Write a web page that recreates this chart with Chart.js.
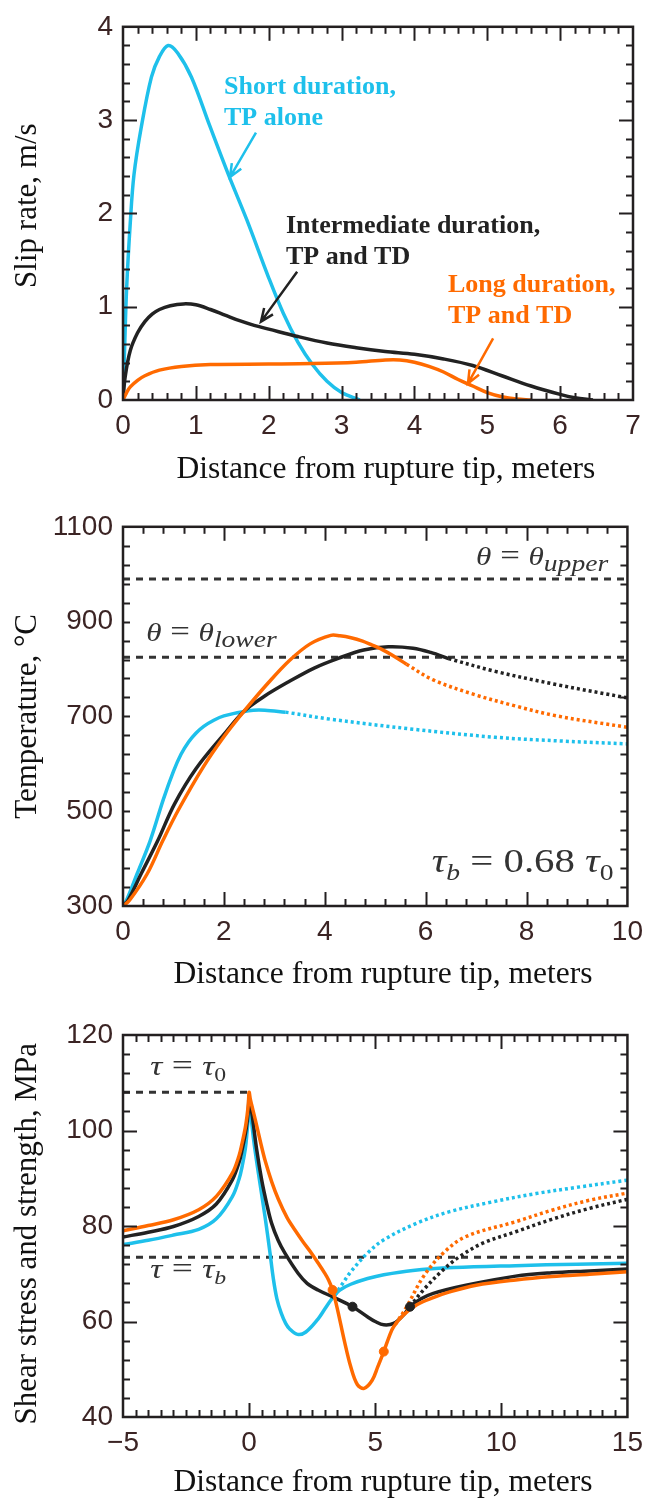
<!DOCTYPE html>
<html>
<head>
<meta charset="utf-8">
<script src="https://cdn.jsdelivr.net/npm/chart.js@4.4.1/dist/chart.umd.min.js"></script>
<style>
  html, body { margin: 0; padding: 0; background: #fff; }
  #wrap { position: relative; width: 652px; height: 1502px; }
  canvas { position: absolute; left: 0; }
</style>
</head>
<body>
<div id="wrap">
  <canvas id="slip" width="652" height="500" style="top:0px"></canvas>
  <canvas id="temp" width="652" height="505" style="top:500px"></canvas>
  <canvas id="stress" width="652" height="497" style="top:1005px"></canvas>
</div>
<script>
// ---- colours ----
const CYAN = '#1ec0eb';
const BLACK = '#222222';
const ORANGE = '#ff6a00';
const INK = '#3b2424';

// ---- panel 1: slip rate, m/s ----
const slipShortX = [0, 0.02, 0.05, 0.1, 0.15, 0.25, 0.39, 0.5, 0.62, 0.75, 0.94, 1.19, 1.45, 1.7, 2.0, 2.2, 2.4, 2.6, 2.8, 3.0, 3.25];
const slipShort  = [0, 0.5, 1.2, 1.9, 2.41, 2.92, 3.46, 3.68, 3.8, 3.72, 3.46, 2.94, 2.41, 1.93, 1.31, 0.93, 0.62, 0.38, 0.2, 0.08, 0];
const slipMidX = [0, 0.03, 0.1, 0.2, 0.3, 0.4, 0.5, 0.65, 0.83, 1.0, 1.2, 1.4, 1.6, 1.8, 2.0, 2.4, 2.8, 3.2, 3.6, 4.0, 4.4, 4.8, 5.2, 5.6, 6.0, 6.2, 6.45];
const slipMid  = [0, 0.25, 0.53, 0.72, 0.84, 0.92, 0.97, 1.01, 1.03, 1.02, 0.97, 0.91, 0.85, 0.8, 0.76, 0.68, 0.61, 0.56, 0.52, 0.49, 0.44, 0.37, 0.26, 0.15, 0.06, 0.025, 0];
const slipLongX = [0, 0.05, 0.1, 0.2, 0.3, 0.5, 0.8, 1.2, 2.0, 2.6, 3.2, 3.6, 3.8, 4.0, 4.2, 4.4, 4.6, 4.8, 5.0, 5.2, 5.4, 5.6];
const slipLong  = [0, 0.08, 0.14, 0.21, 0.26, 0.32, 0.36, 0.38, 0.385, 0.39, 0.405, 0.43, 0.43, 0.405, 0.36, 0.3, 0.22, 0.15, 0.08, 0.035, 0.01, 0];

// ---- panel 2: temperature, deg C (solid part, then dotted part) ----
const tempShortX = [0, 0.07, 0.28, 0.54, 0.8, 1.0, 1.15, 1.3, 1.45, 1.6, 1.8, 2.0, 2.49, 2.81, 3.22];
const tempShort  = [300, 312, 368, 438, 525, 584, 620, 646, 665, 679, 692, 701, 712, 713, 709];
const tempShortDotX = [3.22, 4.12, 5.75, 7.38, 8.7, 10];
const tempShortDot  = [709, 694, 673, 656, 648, 642];
const tempMidX = [0, 0.1, 0.36, 0.69, 1.02, 1.45, 2.0, 2.4, 2.81, 3.3, 3.79, 4.28, 4.77, 5.26, 5.75, 6.1, 6.45];
const tempMid  = [300, 312, 368, 438, 515, 590, 662, 711, 743, 774, 802, 823, 840, 847, 844, 835, 822];
const tempMidDotX = [6.45, 7.38, 8.6, 10];
const tempMidDot  = [822, 795, 767, 739];
const tempLongX = [0, 0.13, 0.48, 0.79, 1.1, 1.59, 2.0, 2.4, 2.89, 3.3, 3.71, 4.12, 4.3, 4.52, 4.75, 4.93, 5.14, 5.34, 5.62];
const tempLong  = [300, 312, 368, 438, 503, 593, 657, 711, 772, 818, 853, 871, 870, 866, 859, 851, 841, 829, 810];
const tempLongDotX = [5.62, 6.15, 6.97, 7.78, 8.6, 10];
const tempLongDot  = [810, 777, 746, 722, 701, 677];
const thetaUpper = 990;
const thetaLower = 825;

// ---- panel 3: shear stress and strength, MPa ----
const stressShortX = [-5, -4, -3, -2, -1.3, -0.67, -0.4, -0.28, -0.15, -0.086, -0.03, 0, 0.18, 0.37, 0.63, 0.83, 0.96, 1.1, 1.27, 1.45, 1.6, 1.92, 2.25, 2.73, 3.0, 3.23, 3.4, 3.6, 4.03, 4.7, 5.34, 6.49, 8.12, 10.57, 13, 15];
const stressShort  = [76.1, 77.0, 78.1, 79.3, 81.5, 86.1, 89.8, 92.4, 96.2, 99.4, 103, 106, 98, 91, 82, 74.3, 69, 64.8, 61.8, 59.6, 58.5, 57.3, 57.8, 60.5, 62.6, 64.4, 65.5, 66.6, 67.8, 69.0, 69.8, 70.7, 71.3, 71.7, 72.0, 72.2];
const strengthShortX = [3.4, 3.7, 4.03, 4.69, 5.34, 6.65, 7.95, 9.6, 11.38, 13, 15];
const strengthShort  = [65.5, 67.9, 70.4, 74.3, 77.1, 80.6, 83.0, 85.0, 86.8, 88.1, 89.6];
const stressMidX = [-5, -4, -3, -2, -1.3, -0.67, -0.4, -0.28, -0.15, -0.086, -0.03, 0, 0.11, 0.3, 0.5, 0.7, 0.89, 1.15, 1.42, 1.94, 2.3, 2.73, 3.38, 4.1, 4.69, 5.0, 5.34, 5.73, 6.13, 6.38, 6.8, 7.3, 8.6, 10.57, 12, 13.5, 15];
const stressMid  = [77.7, 78.7, 79.9, 82.0, 84.6, 89.6, 93.3, 95.9, 99.3, 101.5, 104.3, 107, 103.6, 96, 89.6, 84.6, 80.6, 77, 74.3, 70.1, 68.0, 66.6, 65.0, 63.1, 61.0, 60.0, 59.3, 59.6, 61.4, 63.1, 64.7, 65.9, 67.6, 69.5, 70.2, 70.6, 71.0];
const strengthMidX = [6.38, 6.91, 7.69, 8.35, 9.26, 10.57, 12, 13.5, 15];
const strengthMid  = [63.1, 66.6, 70.8, 73.6, 76.4, 78.8, 81.4, 83.7, 85.6];
const stressLongX = [-5, -4, -3, -2, -1.3, -0.67, -0.4, -0.28, -0.15, -0.086, -0.03, 0, 0.05, 0.1, 0.24, 0.45, 0.64, 0.9, 1.16, 1.5, 1.81, 2.15, 2.46, 2.73, 2.99, 3.15, 3.31, 3.51, 3.77, 4.03, 4.29, 4.56, 4.88, 5.1, 5.34, 5.55, 5.73, 6.13, 6.65, 7.3, 7.95, 9, 10.57, 12, 13.5, 15];
const stressLong  = [79.0, 80.1, 81.3, 83.4, 86.2, 91.0, 94.7, 97.3, 100.6, 102.9, 105.5, 108, 106.5, 105.4, 102.4, 97.6, 93.6, 89.2, 85.6, 81.8, 79.2, 76.6, 74.4, 72.3, 70.2, 68.7, 66.6, 62.4, 56.1, 50.5, 46.8, 46.0, 47.7, 50.5, 53.7, 56.8, 58.9, 61.4, 63.5, 65.0, 66.2, 67.6, 68.7, 69.4, 69.9, 70.4];
const strengthLongX = [5.8, 6.25, 6.91, 7.69, 8.6, 10.57, 12, 13.5, 15];
const strengthLong  = [59.4, 63.1, 69.4, 74.3, 77.8, 80.9, 83.3, 85.4, 86.9];
const markMidX = [4.1, 6.38];
const markMid  = [63.1, 63.1];
const markLongX = [3.31, 5.34];
const markLong  = [66.6, 53.7];
const tau0 = 108;
const taub = 73.44;

// ---- helpers ----
const pts = (xs, ys) => xs.map((x, i) => ({ x: x, y: ys[i] }));

function curve(xs, ys, color, dotted) {
  return {
    data: pts(xs, ys), borderColor: color, borderWidth: 3.5, pointRadius: 0,
    tension: 0.35, borderDash: dotted ? [3, 3] : [], fill: false
  };
}

function refLine(x0, x1, v) {
  return {
    data: [{ x: x0, y: v }, { x: x1, y: v }], borderColor: '#333', borderWidth: 3,
    borderDash: [7, 6], pointRadius: 0, fill: false
  };
}

function marks(xs, ys, color) {
  return { data: pts(xs, ys), showLine: false, pointRadius: 4.5, pointBackgroundColor: color, pointBorderColor: color, borderColor: color };
}

const fmt = v => (v < 0 ? '\u2212' + Math.abs(v) : String(v));

// inward ticks on all four sides plus the frame
const framePlugin = {
  id: 'frame',
  afterDatasetsDraw(chart, args, o) {
    const { ctx, chartArea: a, scales: { x, y } } = chart;
    ctx.save();
    ctx.strokeStyle = '#231f20';
    ctx.lineWidth = 2;
    const seg = (x1, y1, x2, y2) => { ctx.beginPath(); ctx.moveTo(x1, y1); ctx.lineTo(x2, y2); ctx.stroke(); };
    let n = Math.round((x.max - x.min) / o.xMinor);
    for (let i = 1; i < n; i++) {
      const v = x.min + i * o.xMinor;
      const len = Math.abs(v / o.xMajor - Math.round(v / o.xMajor)) < 1e-6 ? 14 : 7;
      const px = Math.round(x.getPixelForValue(v)) + 0.5;
      seg(px, a.bottom, px, a.bottom - len);
      seg(px, a.top, px, a.top + len);
    }
    n = Math.round((y.max - y.min) / o.yMinor);
    for (let i = 1; i < n; i++) {
      const v = y.min + i * o.yMinor;
      const len = Math.abs(v / o.yMajor - Math.round(v / o.yMajor)) < 1e-6 ? 14 : 7;
      const py = Math.round(y.getPixelForValue(v)) + 0.5;
      seg(a.left, py, a.left + len, py);
      seg(a.right, py, a.right - len, py);
    }
    ctx.lineWidth = 2.5;
    ctx.strokeRect(a.left, a.top, a.width, a.height);
    ctx.restore();
  }
};

// labels and arrows, placed in data units
const notesPlugin = {
  id: 'notes',
  afterDatasetsDraw(chart, args, o) {
    const { ctx, scales: { x, y } } = chart;
    ctx.save();
    (o.arrows || []).forEach(a => {
      const x1 = x.getPixelForValue(a.from[0]), y1 = y.getPixelForValue(a.from[1]);
      const x2 = x.getPixelForValue(a.to[0]), y2 = y.getPixelForValue(a.to[1]);
      const ang = Math.atan2(y2 - y1, x2 - x1);
      ctx.strokeStyle = a.color;
      ctx.lineWidth = 2.5;
      ctx.beginPath();
      ctx.moveTo(x1, y1);
      ctx.lineTo(x2, y2);
      ctx.moveTo(x2 - 14 * Math.cos(ang - 0.4), y2 - 14 * Math.sin(ang - 0.4));
      ctx.lineTo(x2, y2);
      ctx.lineTo(x2 - 14 * Math.cos(ang + 0.4), y2 - 14 * Math.sin(ang + 0.4));
      ctx.stroke();
    });
    ctx.textBaseline = 'alphabetic';
    ctx.textAlign = 'left';
    (o.texts || []).forEach(t => {
      ctx.save();
      ctx.translate(x.getPixelForValue(t.at[0]), y.getPixelForValue(t.at[1]));
      ctx.scale(t.sx || 1, 1);
      ctx.fillStyle = t.color;
      let px = 0;
      t.runs.forEach(r => {
        ctx.font = r[1];
        ctx.fillText(r[0], px, r[2] || 0);
        px += ctx.measureText(r[0]).width;
      });
      ctx.restore();
    });
    ctx.restore();
  }
};

const TICK_FONT = { family: 'Liberation Sans', size: 28 };
const XTITLE_FONT = { family: 'Liberation Serif', size: 31.5 };
const YTITLE_FONT = { family: 'Liberation Serif', size: 31 };
const XTITLE = '\u2002Distance from rupture tip, meters';

function axes(o) {
  return {
    x: {
      type: 'linear', min: o.xMin, max: o.xMax,
      ticks: { stepSize: o.xStep, font: TICK_FONT, color: INK, padding: 9, maxRotation: 0, autoSkip: false, callback: fmt },
      grid: { display: false, drawTicks: false }, border: { display: false },
      title: { display: true, text: XTITLE, font: XTITLE_FONT, color: '#111', padding: { top: 0, bottom: o.xTitlePad } },
      afterFit: s => { s.height = o.xH; }
    },
    y: {
      type: 'linear', min: o.yMin, max: o.yMax,
      ticks: { stepSize: o.yStep, font: TICK_FONT, color: INK, padding: 10, autoSkip: false, callback: fmt },
      grid: { display: false, drawTicks: false }, border: { display: false },
      title: { display: true, text: o.yTitle, font: YTITLE_FONT, color: '#111', padding: { top: 9, bottom: 0 } },
      afterFit: s => { s.width = 123; }
    }
  };
}

function makeChart(id, datasets, ax, padTop, frame, notes) {
  return new Chart(document.getElementById(id), {
    type: 'line',
    data: { datasets: datasets },
    options: {
      responsive: false, animation: false, devicePixelRatio: 1, events: [],
      layout: { padding: { left: 0, right: 19, top: padTop, bottom: 0 } },
      scales: axes(ax),
      plugins: { legend: { display: false }, tooltip: { enabled: false }, frame: frame, notes: notes }
    },
    plugins: [framePlugin, notesPlugin]
  });
}

Chart.defaults.font.family = 'Liberation Sans';

const BOLD = 'bold 26px "Liberation Serif"';

// ---- panel 1 ----
makeChart('slip', [
  curve(slipLongX, slipLong, ORANGE),
  curve(slipMidX, slipMid, BLACK),
  curve(slipShortX, slipShort, CYAN)
], { xMin: 0, xMax: 7, xStep: 1, yMin: 0, yMax: 4, yStep: 1, xH: 100, xTitlePad: 11, yTitle: '\u2002Slip rate, m/s' },
19, { xMinor: 0.2, xMajor: 1, yMinor: 0.2, yMajor: 1 }, {
  arrows: [
    { from: [1.825, 2.866], to: [1.469, 2.39], color: CYAN },
    { from: [2.39, 1.375], to: [1.894, 0.84], color: BLACK },
    { from: [5.08, 0.661], to: [4.735, 0.178], color: ORANGE }
  ],
  texts: [
    { at: [1.386, 3.276], color: CYAN, runs: [['Short duration,', BOLD]] },
    { at: [1.386, 2.945], color: CYAN, runs: [['TP alone', BOLD]] },
    { at: [2.237, 1.79], color: BLACK, runs: [['Intermediate duration,', BOLD]] },
    { at: [2.237, 1.462], color: BLACK, runs: [['TP and TD', BOLD]] },
    { at: [4.46, 1.155], color: ORANGE, runs: [['Long duration,', BOLD]] },
    { at: [4.46, 0.822], color: ORANGE, runs: [['TP and TD', BOLD]] }
  ]
});

// ---- panel 2 ----
const I26 = 'italic 26px "Liberation Serif"', M29 = '29px "Liberation Serif"', I23 = 'italic 23px "Liberation Serif"';
const M34 = '34px "Liberation Serif"', I34 = 'italic 34px "Liberation Serif"', M23 = '23px "Liberation Serif"';
makeChart('temp', [
  curve(tempLongX, tempLong, ORANGE),
  curve(tempLongDotX, tempLongDot, ORANGE, true),
  curve(tempMidX, tempMid, BLACK),
  curve(tempMidDotX, tempMidDot, BLACK, true),
  curve(tempShortX, tempShort, CYAN),
  curve(tempShortDotX, tempShortDot, CYAN, true),
  refLine(0, 10, thetaUpper),
  refLine(0, 10, thetaLower)
], { xMin: 0, xMax: 10, xStep: 2, yMin: 300, yMax: 1100, yStep: 200, xH: 99, xTitlePad: 11, yTitle: 'Temperature, \u00B0C' },
23, { xMinor: 0.4, xMajor: 2, yMinor: 40, yMajor: 200 }, {
  texts: [
    { at: [7.0, 1018.6], color: '#333', sx: 1.2, runs: [['\u03B8', I26], [' = ', M29], ['\u03B8', I26], ['upper', I23, 6]] },
    { at: [0.46, 858.7], color: '#333', sx: 1.2, runs: [['\u03B8', I26], [' = ', M29], ['\u03B8', I26], ['lower', I23, 6]] },
    { at: [6.12, 371.4], color: '#333', sx: 1.2, runs: [['\u03C4', I34], ['b', 'italic 23px "Liberation Serif"', 8], [' = 0.68 ', M34], ['\u03C4', I34], ['0', M23, 8]] }
  ]
});

// ---- panel 3 ----
const M30 = '30px "Liberation Serif"', I27 = 'italic 27px "Liberation Serif"', I19 = 'italic 19px "Liberation Serif"', M19 = '19px "Liberation Serif"';
makeChart('stress', [
  marks(markLongX, markLong, ORANGE),
  marks(markMidX, markMid, BLACK),
  curve(stressLongX, stressLong, ORANGE),
  curve(strengthLongX, strengthLong, ORANGE, true),
  curve(stressMidX, stressMid, BLACK),
  curve(strengthMidX, strengthMid, BLACK, true),
  curve(stressShortX, stressShort, CYAN),
  curve(strengthShortX, strengthShort, CYAN, true),
  refLine(-5, 0, tau0),
  refLine(-5, 15, taub)
], { xMin: -5, xMax: 15, xStep: 5, yMin: 40, yMax: 120, yStep: 20, xH: 85, xTitlePad: 0, yTitle: 'Shear stress and strength, MPa\u2002' },
30, { xMinor: 0.5, xMajor: 5, yMinor: 4, yMajor: 20 }, {
  texts: [
    { at: [-3.92, 111.6], color: '#333', sx: 1.25, runs: [['\u03C4', I27], [' = ', M30], ['\u03C4', I27], ['0', M19, 6]] },
    { at: [-3.92, 69.1], color: '#333', sx: 1.25, runs: [['\u03C4', I27], [' = ', M30], ['\u03C4', I27], ['b', I19, 6]] }
  ]
});
</script>
</body>
</html>
